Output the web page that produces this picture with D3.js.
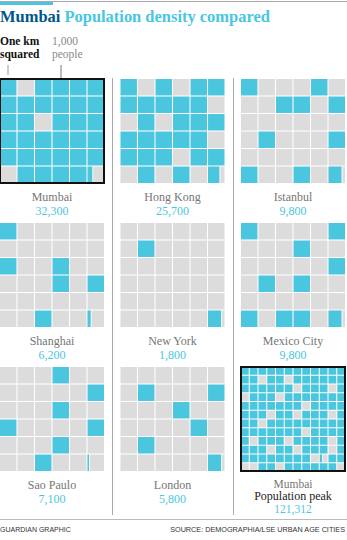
<!DOCTYPE html>
<html><head><meta charset="utf-8">
<script src="https://cdn.jsdelivr.net/npm/d3@7"></script>
<style>
html,body{margin:0;padding:0;background:#fff;}
svg{display:block;}
</style></head>
<body>
<script>
// ---- data ----
const titleDark = "Mumbai";
const titleLight = "Population density compared";
const cities = ["Mumbai","Hong Kong","Istanbul","Shanghai","New York","Mexico City","Sao Paulo","London","Mumbai"];
const subtitles = ["","","","","","","","","Population peak"];
const values = [32300,25700,9800,6200,1800,9800,7100,5800,121312];
const highlighted = [true,false,false,false,false,false,false,false,true];
// '1' = 1,000 people, '0' = empty, 'p' = partial cell
const patterns = [
  ["101111","111111","110111","111111","111111","01111p"],
  ["101011","111110","010111","111110","111011","01010p"],
  ["100010","001101","000000","010001","000000","10010p"],
  ["100000","000000","100100","000101","000000","00100p"],
  ["000000","010000","000000","000000","000000","00000p"],
  ["100001","000100","000001","010100","000000","10110p"],
  ["000100","000001","000100","100001","000100","00100p"],
  ["000000","010001","000100","000010","010000","00000p"],
  ["111111111111","110110111111","111111011101","011101111111","111111101111","111011011101",
   "110111111111","111111101111","101110111101","111011011101","111111110p11","001101111110"]
];
const keyLeft = ["One km","squared"];
const keyRight = ["1,000","people"];
const footerLeft = "GUARDIAN GRAPHIC";
const footerRight = "SOURCE: DEMOGRAPHIA/LSE URBAN AGE CITIES";

// ---- layout ----
const W = 347, H = 540;
const BLUE = "#4bc6df", GREY = "#dcdcdc", DARK = "#005689";
const serif = "'Liberation Serif', 'DejaVu Serif', serif";

const svg = d3.select("body").append("svg").attr("width", W).attr("height", H);

// top rule
svg.append("rect").attr("x",0).attr("y",1).attr("width",W).attr("height",1).attr("fill","#aaa");
svg.append("rect").attr("x",0).attr("y",2).attr("width",53).attr("height",3).attr("fill",BLUE);

// title
const title = svg.append("text").attr("x",0).attr("y",21.5)
  .attr("font-family",serif).attr("font-weight","bold").attr("font-size",16.5);
title.append("tspan").attr("fill",DARK).text(titleDark);
title.append("tspan").attr("fill",BLUE).text(" " + titleLight);
const tw = title.node().getComputedTextLength();
if (tw > 0) title.attr("font-size", 16.5 * 270 / tw);

// key
svg.selectAll("text.kl").data(keyLeft).join("text").attr("class","kl")
  .attr("x",0).attr("y",(d,i)=>45 + i*12.5)
  .attr("font-family",serif).attr("font-weight","bold").attr("font-size",11.5).attr("fill","#111")
  .text(d=>d);
svg.selectAll("text.kr").data(keyRight).join("text").attr("class","kr")
  .attr("x",52).attr("y",(d,i)=>45 + i*12.5)
  .attr("font-family",serif).attr("font-size",11.5).attr("fill","#888")
  .text(d=>d);
svg.append("line").attr("x1",8).attr("x2",8).attr("y1",65).attr("y2",75).attr("stroke","#999");
svg.append("line").attr("x1",61).attr("x2",61).attr("y1",65).attr("y2",88).attr("stroke","#777");

// panel scales
const colX = d3.scaleBand().domain([0,1,2]).range([0,345]).paddingInner(16.5/120.5);
const rowY = d3.scaleBand().domain([0,1,2]).range([79,471]).paddingInner(40/144);
const S = colX.bandwidth();

// separators
[1,2].forEach(c=>{
  const x = Math.round(colX(c) - colX.step()*colX.paddingInner()/2) + 0.5;
  svg.append("line").attr("x1",x).attr("x2",x).attr("y1",78).attr("y2",515)
    .attr("stroke","#aaa").attr("stroke-width",1);
});

const panels = cities.map((c,i)=>({i, city:c, sub:subtitles[i], value:values[i],
  pattern:patterns[i], hl:highlighted[i], col:i%3, row:Math.floor(i/3)}));

const fmt = d3.format(",");

const g = svg.selectAll("g.panel").data(panels).join("g").attr("class","panel")
  .attr("transform",d=>`translate(${colX(d.col)},${rowY(d.row)})`);

g.each(function(d){
  const n = d.pattern.length;
  const cell = d3.scaleBand().domain(d3.range(n)).range([0,S]).paddingInner(n===6?0.06:0.115);
  const cells = [];
  d.pattern.forEach((r,ri)=>r.split("").forEach((ch,ci)=>cells.push({r:ri,c:ci,t:ch})));
  const frac = (d.value % 1000)/1000;
  const sel = d3.select(this);
  sel.selectAll("rect.cell").data(cells).join("rect").attr("class","cell")
    .attr("x",e=>cell(e.c)).attr("y",e=>cell(e.r))
    .attr("width",cell.bandwidth()).attr("height",cell.bandwidth())
    .attr("fill",e=>e.t==="1"?BLUE:GREY);
  sel.selectAll("rect.part").data(cells.filter(e=>e.t==="p")).join("rect").attr("class","part")
    .attr("x",e=>cell(e.c)).attr("y",e=>cell(e.r))
    .attr("width",cell.bandwidth()*frac).attr("height",cell.bandwidth())
    .attr("fill",BLUE);
  sel.selectAll("line.part").data(cells.filter(e=>e.t==="p")).join("line").attr("class","part")
    .attr("x1",e=>cell(e.c)+cell.bandwidth()*frac+0.4).attr("x2",e=>cell(e.c)+cell.bandwidth()*frac+0.4)
    .attr("y1",e=>cell(e.r)).attr("y2",e=>cell(e.r)+cell.bandwidth())
    .attr("stroke","#fff").attr("stroke-width",0.8);
  if (d.hl) {
    sel.append("rect").attr("x",0).attr("y",0).attr("width",S).attr("height",S)
      .attr("fill","none").attr("stroke","#111").attr("stroke-width",2);
  }
  const cx = S/2;
  if (d.sub) {
    sel.append("text").attr("x",cx).attr("y",S+16.5).attr("text-anchor","middle")
      .attr("font-family",serif).attr("font-size",11.5).attr("fill","#767676").text(d.city);
    sel.append("text").attr("x",cx).attr("y",S+29).attr("text-anchor","middle")
      .attr("font-family",serif).attr("font-size",12).attr("fill","#222").text(d.sub);
    sel.append("text").attr("x",cx).attr("y",S+42).attr("text-anchor","middle")
      .attr("font-family",serif).attr("font-size",11.5).attr("fill",BLUE).text(fmt(d.value));
  } else {
    sel.append("text").attr("x",cx).attr("y",S+18).attr("text-anchor","middle")
      .attr("font-family",serif).attr("font-size",12).attr("fill","#767676").text(d.city);
    sel.append("text").attr("x",cx).attr("y",S+31.5).attr("text-anchor","middle")
      .attr("font-family",serif).attr("font-size",12).attr("fill",BLUE).text(fmt(d.value));
  }
});

// footer
svg.append("line").attr("x1",0).attr("x2",W).attr("y1",519.5).attr("y2",519.5).attr("stroke","#bbb");
const ff = "'Liberation Sans Narrow','Liberation Sans',sans-serif";
function fitText(t, target){
  const w = t.node().getComputedTextLength();
  if (w > 0) t.attr("font-size", 8.5 * target / w);
}
const fl = svg.append("text").attr("x",0).attr("y",532)
  .attr("font-family",ff).attr("font-size",8.5).attr("fill","#333").text(footerLeft);
fitText(fl, 71);
const fr = svg.append("text").attr("x",345).attr("y",532).attr("text-anchor","end")
  .attr("font-family",ff).attr("font-size",8.5).attr("fill","#333").text(footerRight);
fitText(fr, 175);
</script>
</body></html>
